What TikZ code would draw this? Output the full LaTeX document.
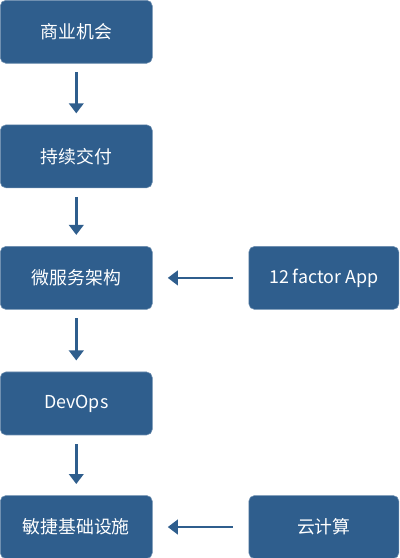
\documentclass[tikz,border=0pt]{standalone}
\usepackage{fontspec}
\setmainfont{Noto Sans CJK SC}
\usepackage{xcolor}
\usepackage{tikz}
\usetikzlibrary{arrows.meta,positioning}
\definecolor{flowblue}{HTML}{2F5E8D}

\begin{document}
\begin{tikzpicture}[node distance=1.5cm, font=\fontsize{12.7}{15}\selectfont]
          \tikzstyle{box}=[draw=flowblue!70,fill=flowblue,text=white,rounded corners=4pt,minimum width=3.8cm,minimum height=1.575cm,align=center]
          \tikzstyle{rbox}=[box,minimum width=3.75cm]
          \tikzstyle{flow}=[-{Triangle[length=0.25cm,width=0.36cm]},line width=2pt,flowblue]
          \useasboundingbox (0,0) rectangle (10,-13.95);
          \node[box,anchor=north west] (chance) at (0,0) {商业机会};
          \node[box,below=1.525cm of chance] (deliver) {持续交付};
          \node[box,below=1.45cm of deliver] (micro) {微服务架构};
          \node[box,below=1.55cm of micro] (devops) {DevOps};
          \node[box,below=1.5cm of devops] (infra) {敏捷基础设施};
          \node[rbox,right=2.4cm of micro] (factor) {12 factor App};
          \node[rbox,right=2.4cm of infra] (cloud) {云计算};
          % main chain, top to bottom
          \draw[flow,shorten <=0.22cm,shorten >=0.28cm] (chance) -- (deliver);
          \draw[flow,shorten <=0.22cm,shorten >=0.28cm] (deliver) -- (micro);
          \draw[flow,shorten <=0.22cm,shorten >=0.28cm] (micro) -- (devops);
          \draw[flow,shorten <=0.22cm,shorten >=0.28cm] (devops) -- (infra);
          % side inputs
          \draw[flow,shorten <=0.4cm,shorten >=0.38cm] (factor) -- (micro);
          \draw[flow,shorten <=0.4cm,shorten >=0.38cm] (cloud) -- (infra);
        \end{tikzpicture}
\end{document}
